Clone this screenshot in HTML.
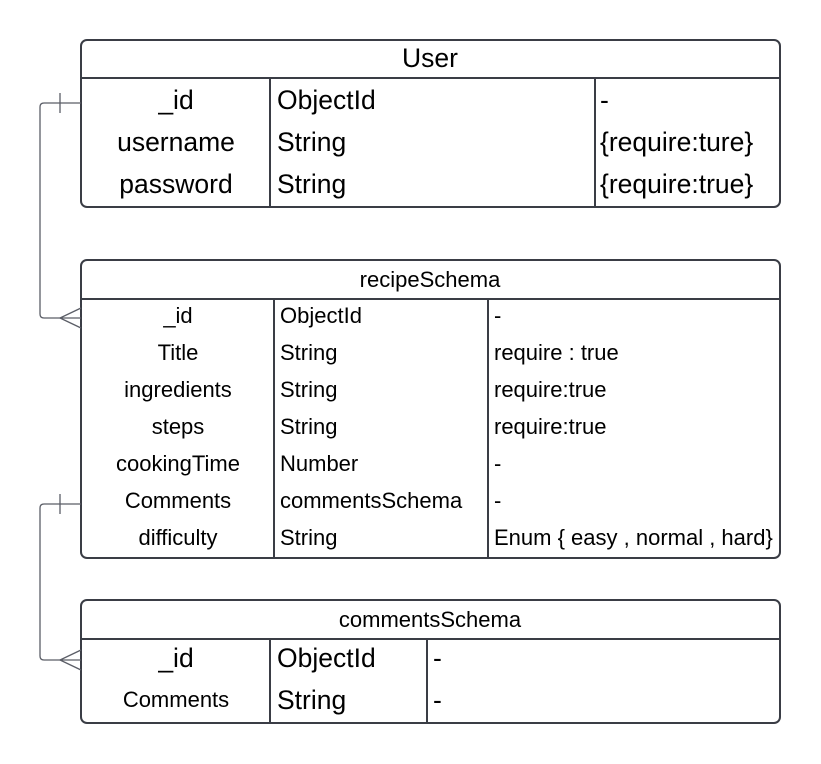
<!DOCTYPE html>
<html><head><style>html,body{margin:0;padding:0;background:#fff}svg{display:block}</style></head><body>
<svg width="821" height="764" viewBox="0 0 821 764" xmlns="http://www.w3.org/2000/svg" font-family="Liberation Sans, Arial, sans-serif" fill="#000">
<g fill="none" stroke="#3a3d45" stroke-width="2">
<rect x="81" y="40" width="699" height="167" rx="6"/>
<line x1="81" y1="78" x2="780" y2="78"/>
<line x1="270" y1="78" x2="270" y2="207"/>
<line x1="595" y1="78" x2="595" y2="207"/>
<rect x="81" y="260" width="699" height="298" rx="6"/>
<line x1="81" y1="299" x2="780" y2="299"/>
<line x1="274" y1="299" x2="274" y2="558"/>
<line x1="488" y1="299" x2="488" y2="558"/>
<rect x="81" y="600" width="699" height="123" rx="6"/>
<line x1="81" y1="639" x2="780" y2="639"/>
<line x1="270" y1="639" x2="270" y2="723"/>
<line x1="427" y1="639" x2="427" y2="723"/>
</g>
<g fill="none" stroke="#5a5d66" stroke-width="1.3">
<path d="M81 103 H44 Q40 103 40 107 V314 Q40 318 44 318 H81"/>
<line x1="60" y1="93" x2="60" y2="113"/>
<path d="M81 308 L60 318 L81 328"/>
<path d="M81 504 H44 Q40 504 40 508 V656 Q40 660 44 660 H81"/>
<line x1="60" y1="494" x2="60" y2="514"/>
<path d="M81 650 L60 660 L81 670"/>
</g>
<g font-size="26.5">
<text x="430" y="67" text-anchor="middle">User</text>
<text x="176" y="109" text-anchor="middle">_id</text>
<text x="176" y="151" text-anchor="middle">username</text>
<text x="176" y="193" text-anchor="middle">password</text>
<text x="277" y="109">ObjectId</text>
<text x="277" y="151">String</text>
<text x="277" y="193">String</text>
<text x="600" y="109">-</text>
<text x="600" y="151">{require:ture}</text>
<text x="600" y="193">{require:true}</text>
</g>
<g font-size="22">
<text x="430" y="287" text-anchor="middle">recipeSchema</text>
<text x="178" y="323" text-anchor="middle">_id</text>
<text x="178" y="360" text-anchor="middle">Title</text>
<text x="178" y="397" text-anchor="middle">ingredients</text>
<text x="178" y="434" text-anchor="middle">steps</text>
<text x="178" y="471" text-anchor="middle">cookingTime</text>
<text x="178" y="508" text-anchor="middle">Comments</text>
<text x="178" y="545" text-anchor="middle">difficulty</text>
<text x="280" y="323">ObjectId</text>
<text x="280" y="360">String</text>
<text x="280" y="397">String</text>
<text x="280" y="434">String</text>
<text x="280" y="471">Number</text>
<text x="280" y="508">commentsSchema</text>
<text x="280" y="545">String</text>
<text x="494" y="323">-</text>
<text x="494" y="360">require : true</text>
<text x="494" y="397">require:true</text>
<text x="494" y="434">require:true</text>
<text x="494" y="471">-</text>
<text x="494" y="508">-</text>
<text x="494" y="545">Enum { easy , normal , hard}</text>
<text x="430" y="627" text-anchor="middle">commentsSchema</text>
<text x="176" y="707" text-anchor="middle">Comments</text>
</g>
<g font-size="26.5">
<text x="176" y="667" text-anchor="middle">_id</text>
<text x="277" y="667">ObjectId</text>
<text x="277" y="709">String</text>
<text x="433" y="667">-</text>
<text x="433" y="709">-</text>
</g>
</svg>
</body></html>
